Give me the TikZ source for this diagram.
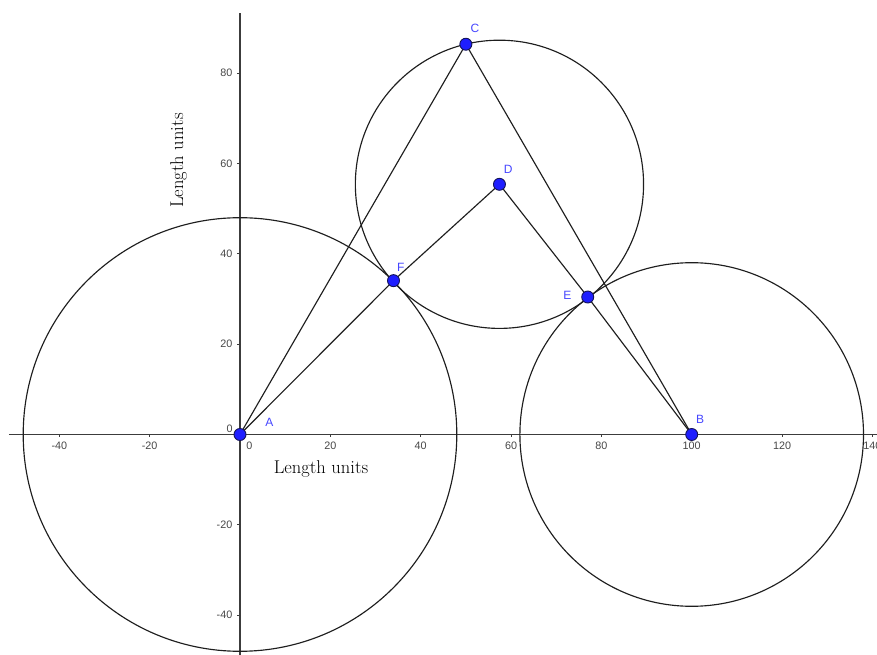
\documentclass[tikz,border=0pt]{standalone}
\usepackage{fontspec}
\newfontfamily\sansf{Liberation Sans}
\definecolor{ptfill}{RGB}{30,30,255}
\definecolor{ptline}{RGB}{20,20,90}
\definecolor{lblue}{RGB}{70,70,255}
\definecolor{axcol}{RGB}{60,60,60}
\definecolor{tickcol}{RGB}{70,70,70}
\definecolor{geo}{RGB}{30,30,30}
\begin{document}
\begin{tikzpicture}[x=4.517pt,y=4.517pt,
  axisline/.style={draw=axcol,line width=1.2pt},
  tickmark/.style={draw=axcol,line width=1pt},
  ticklbl/.style={font=\sansf\fontsize{10.8}{12}\selectfont,text=tickcol,inner sep=0pt},
  geoline/.style={draw=geo,line width=1.15pt},
  pt/.style={circle,inner sep=0pt,minimum size=12pt,fill=ptfill,draw=ptline,line width=0.9pt},
  ptlbl/.style={font=\sansf\fontsize{12}{14}\selectfont,text=lblue,inner sep=0pt},
  axlbl/.style={font=\fontsize{18.5}{22}\selectfont,inner sep=0pt,anchor=base}]
\useasboundingbox (-240pt,-220.5pt) rectangle (637pt,434.5pt);
% axes
\coordinate (xL) at (-231pt,0);
\coordinate (xR) at (640pt,0);
\coordinate (yT) at (0,421.5pt);
\coordinate (yB) at (0,-222pt);
\draw[axisline] (xL) -- (xR);
\draw[axisline] (yB) -- (yT);
\foreach \v in {-40,-20,20,40,60,80,100,120,140}{
  \draw[tickmark] (\v,0) -- ++(0,-3pt);
  \node[ticklbl] (tx\v) at ([yshift=-11.5pt]\v,0) {\v};
}
\foreach \v in {-40,-20,20,40,60,80}{
  \draw[tickmark] (0,\v) -- ++(-3pt,0);
  \node[ticklbl,anchor=east] (ty\v) at ([xshift=-7.5pt]0,\v) {\v};
}
\node[ticklbl] (tx0) at (9.3pt,-11.5pt) {0};
\node[ticklbl] (ty0) at (-10.3pt,5.5pt) {0};
% axis titles
\node[axlbl] (xt) at (81pt,-39.5pt) {Length units};
\node[axlbl,rotate=90] (yt) at (-57pt,274pt) {Length units};
% points
\coordinate (A) at (0,0);
\coordinate (B) at (100,0);
\coordinate (C) at (50,86.4);
\coordinate (D) at (57.44,55.39);
\coordinate (E) at (76.98,30.44);
\coordinate (F) at (33.98,34.06);
% circles
\draw[geoline] (A) circle[radius=216.8pt];
\draw[geoline] (B) circle[radius=171.8pt];
\draw[geoline] (D) circle[radius=144.1pt];
% segments
\draw[geoline] (A) -- (C);
\draw[geoline] (C) -- (B);
\draw[geoline] (A) -- (F);
\draw[geoline] (F) -- (D);
\draw[geoline] (D) -- (E);
\draw[geoline] (E) -- (B);
% point markers
\foreach \p in {A,B,C,D,E,F}{
  \node[pt] (p\p) at (\p) {};
}
% point labels
\node[ptlbl] (lA) at (29.3pt,11.8pt) {A};
\node[ptlbl] (lB) at (460pt,15.5pt) {B};
\node[ptlbl] (lC) at (235pt,406.2pt) {C};
\node[ptlbl] (lD) at (268.3pt,265.5pt) {D};
\node[ptlbl] (lE) at (327.3pt,138.8pt) {E};
\node[ptlbl] (lF) at (160.7pt,167.5pt) {F};
\end{tikzpicture}
\end{document}
